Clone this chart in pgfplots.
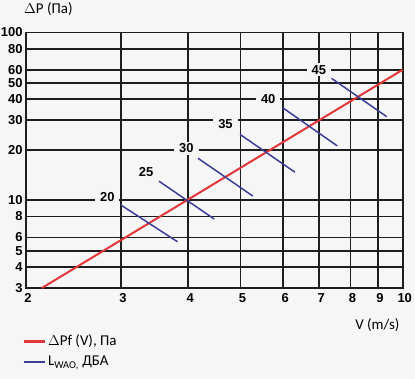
\documentclass[border=0pt]{standalone}
\usepackage{fontspec}
\setmainfont{Carlito}
\newfontfamily\lsans{Liberation Sans}
\usepackage{pgfplots}
\pgfplotsset{compat=1.18}
\definecolor{bg}{HTML}{F6F6F6}
\definecolor{gridc}{HTML}{1E1E1E}
\definecolor{redl}{HTML}{E2373A}
\definecolor{bluel}{HTML}{3D3F96}
\begin{document}
\begin{tikzpicture}
\fill[bg] (-26bp,-91bp) rectangle (389bp,288bp);
\begin{axis}[
  at={(0,0)}, anchor=south west,
  scale only axis,
  width=376.7bp, height=255.5bp,
  xmode=log, ymode=log,
  xmin=2, xmax=10, ymin=3, ymax=100,
  xtick={2,3,4,5,6,7,8,9,10},
  xticklabels={2,3,4,5,6,7,8,9,10},
  ytick={3,4,5,6,8,10,20,30,40,50,60,80,100},
  yticklabels={3,4,5,6,8,10,20,30,40,50,60,80,100},
  minor tick num=0,
  major tick length=0pt,
  /pgf/number format/assume math mode=true,
  tick label style={font=\lsans\bfseries\fontsize{13}{13}\selectfont, text=black},
  xticklabel style={yshift=-2bp, xshift=2bp},
  grid=major,
  major grid style={gridc, line width=1.9bp},
  axis line style={gridc, line width=1.9bp},
  axis background/.style={fill=bg},
  xlabel={V (m/s)}, ylabel={$\Delta$P (Па)},
  every axis x label/.style={at={(axis description cs:1.0008,-0.145)}, anchor=east, font=\fontsize{15}{15}\selectfont},
  every axis y label/.style={at={(axis description cs:-0.014,1.092)}, anchor=west, font=\fontsize{15}{15}\selectfont},
  legend style={draw=none, fill=none, at={(axis description cs:-0.011,-0.175)}, anchor=north west,
    font=\fontsize{15}{15}\selectfont, inner sep=0pt, row sep=5bp, cells={anchor=west}},
  legend cell align=left,
  clip=false,
]
\addplot[redl, line width=2bp,
  legend image code/.code={\draw[redl, line width=3bp] (0bp,0bp) -- (21bp,0bp);}]
  coordinates {(2.14,3) (10,60)};
\addlegendentry{$\Delta$Pf (V), Па}
\addplot[bluel, line width=1.5bp,
  legend image code/.code={\draw[bluel, line width=1.5bp] (0bp,0bp) -- (21bp,0bp);}]
  coordinates {(3.00,9.37) (3.82,5.66)};
\addlegendentry{L\textsubscript{WAO,} ДБА}
\addplot[bluel, line width=1.5bp, forget plot] coordinates {(3.53,13.0) (4.47,7.73)};
\addplot[bluel, line width=1.5bp, forget plot] coordinates {(4.17,17.8) (5.27,10.6)};
\addplot[bluel, line width=1.5bp, forget plot] coordinates {(4.99,24.7) (6.31,14.7)};
\addplot[bluel, line width=1.5bp, forget plot] coordinates {(5.99,35.6) (7.56,21.1)};
\addplot[bluel, line width=1.5bp, forget plot] coordinates {(7.38,53.3) (9.34,31.5)};
\begin{scope}[every node/.style={fill=bg, inner xsep=5bp, inner ysep=2bp, font=\lsans\bfseries\fontsize{13}{13}\selectfont}]
\node at (axis cs:2.83,10.5) {20};
\node at (axis cs:3.34,14.7) {25};
\node at (axis cs:3.97,20.4) {30};
\node at (axis cs:4.69,28.4) {35};
\node at (axis cs:5.63,40.3) {40};
\node at (axis cs:6.99,60) {45};
\end{scope}
\end{axis}
\pgfresetboundingbox
\useasboundingbox (-26bp,-91bp) rectangle (389bp,288bp);
\end{tikzpicture}
\end{document}
